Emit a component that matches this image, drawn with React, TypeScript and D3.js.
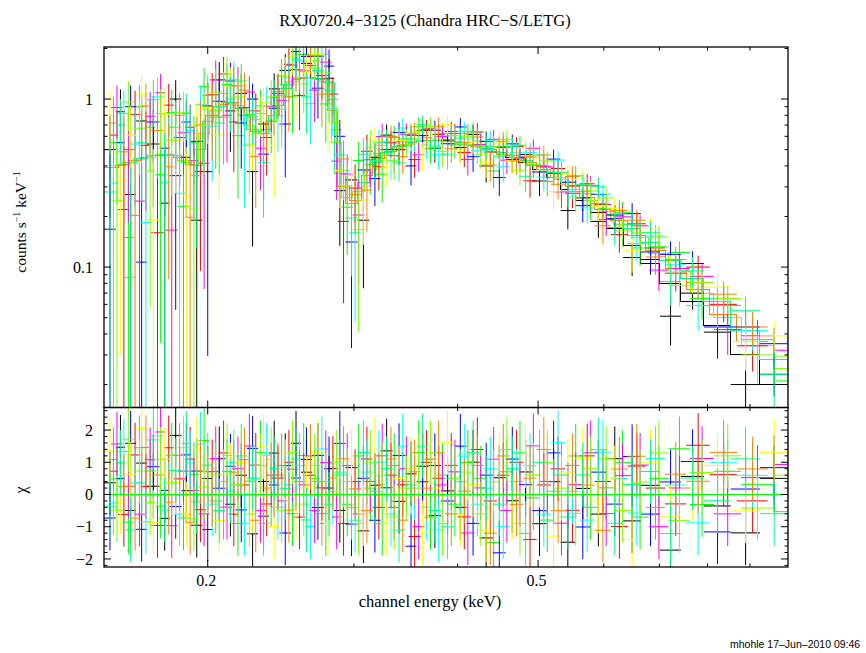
import React, { useEffect, useRef } from 'react';
import * as d3 from 'd3';

// channel bin edges (keV) of the three groupings used by the ten spectra
const edgesA = [0.150, 0.155, 0.159, 0.164, 0.169, 0.175, 0.180, 0.186, 0.191, 0.197, 0.203, 0.210, 0.216, 0.223, 0.230, 0.237, 0.244, 0.252, 0.259, 0.267, 0.276, 0.284, 0.293, 0.303, 0.313, 0.323, 0.334, 0.346, 0.357, 0.369, 0.382, 0.396, 0.410, 0.425, 0.441, 0.457, 0.474, 0.492, 0.512, 0.532, 0.554, 0.578, 0.604, 0.633, 0.665, 0.701, 0.743, 0.792, 0.853, 0.925, 1.000];
const edgesB = [0.152, 0.156, 0.161, 0.166, 0.171, 0.177, 0.182, 0.188, 0.193, 0.199, 0.206, 0.212, 0.218, 0.225, 0.232, 0.239, 0.247, 0.254, 0.262, 0.270, 0.279, 0.287, 0.296, 0.306, 0.316, 0.327, 0.338, 0.349, 0.361, 0.373, 0.386, 0.400, 0.415, 0.430, 0.446, 0.462, 0.480, 0.498, 0.518, 0.539, 0.561, 0.585, 0.612, 0.641, 0.674, 0.711, 0.754, 0.805, 0.868, 0.945];
const edgesC = [0.153, 0.158, 0.163, 0.168, 0.173, 0.178, 0.184, 0.190, 0.195, 0.201, 0.208, 0.214, 0.221, 0.228, 0.235, 0.242, 0.249, 0.257, 0.265, 0.273, 0.282, 0.290, 0.299, 0.309, 0.319, 0.330, 0.341, 0.353, 0.365, 0.377, 0.390, 0.404, 0.419, 0.434, 0.450, 0.467, 0.484, 0.503, 0.523, 0.544, 0.566, 0.591, 0.617, 0.647, 0.680, 0.718, 0.762, 0.814, 0.878, 0.960, 1.040];

// folded model (counts s^-1 keV^-1) per bin
const modelA = [0.39, 0.40, 0.42, 0.44, 0.46, 0.47, 0.46, 0.42, 0.40, 0.74, 0.90, 0.96, 0.88, 0.66, 0.62, 0.80, 1.15, 1.30, 1.35, 1.32, 1.25, 0.36, 0.24, 0.32, 0.42, 0.48, 0.52, 0.55, 0.57, 0.57, 0.56, 0.55, 0.53, 0.51, 0.48, 0.46, 0.43, 0.40, 0.36, 0.32, 0.28, 0.24, 0.205, 0.17, 0.14, 0.11, 0.085, 0.062, 0.042, 0.028];
const modelBlack = [0.39, 0.40, 0.42, 0.44, 0.46, 0.47, 0.46, 0.42, 0.40, 0.74, 0.90, 0.96, 0.88, 0.66, 0.62, 0.80, 1.15, 1.30, 1.35, 1.32, 1.25, 0.36, 0.24, 0.32, 0.42, 0.48, 0.52, 0.55, 0.57, 0.57, 0.56, 0.55, 0.53, 0.51, 0.48, 0.45, 0.42, 0.38, 0.34, 0.29, 0.25, 0.21, 0.17, 0.135, 0.105, 0.080, 0.062, 0.045, 0.030, 0.020];
const modelB = [0.39, 0.41, 0.43, 0.45, 0.46, 0.47, 0.45, 0.41, 0.50, 0.80, 0.93, 0.95, 0.80, 0.64, 0.66, 0.92, 1.22, 1.33, 1.34, 1.30, 0.85, 0.30, 0.25, 0.35, 0.44, 0.49, 0.53, 0.56, 0.57, 0.57, 0.56, 0.54, 0.52, 0.50, 0.47, 0.45, 0.42, 0.38, 0.34, 0.30, 0.26, 0.22, 0.19, 0.155, 0.125, 0.098, 0.074, 0.052, 0.036];
const modelC = [0.40, 0.42, 0.44, 0.45, 0.47, 0.46, 0.43, 0.40, 0.62, 0.86, 0.95, 0.92, 0.70, 0.62, 0.74, 1.05, 1.27, 1.35, 1.33, 1.28, 0.55, 0.26, 0.28, 0.38, 0.46, 0.50, 0.54, 0.56, 0.57, 0.57, 0.56, 0.54, 0.52, 0.49, 0.47, 0.44, 0.41, 0.37, 0.33, 0.29, 0.25, 0.215, 0.18, 0.15, 0.12, 0.094, 0.070, 0.050, 0.034, 0.025];

// relative 1-sigma error per bin
const relErr = [0.78, 0.75, 0.72, 0.7, 0.68, 0.66, 0.64, 0.6, 0.55, 0.46, 0.4, 0.38, 0.38, 0.36, 0.36, 0.34, 0.32, 0.3, 0.3, 0.3, 0.32, 0.42, 0.45, 0.36, 0.25, 0.2, 0.18, 0.17, 0.16, 0.16, 0.16, 0.16, 0.16, 0.16, 0.16, 0.16, 0.16, 0.16, 0.17, 0.17, 0.17, 0.18, 0.18, 0.19, 0.2, 0.21, 0.23, 0.25, 0.28, 0.3];

// observed rates, one array per data set
const rateBlack = [0.50, 0.84, 0.27, 0.74, 0.54, 0.24, 1.00, 0.45, 0.19, 0.91, 1.30, 0.85, 1.08, 0.37, 0.71, 1.15, 1.48, 1.92, 1.63, 1.80, 1.33, 0.285, 0.33, 0.19, 0.45, 0.61, 0.50, 0.61, 0.65, 0.51, 0.57, 0.515, 0.615, 0.40, 0.52, 0.436, 0.467, 0.325, 0.363, 0.217, 0.258, 0.187, 0.204, 0.114, 0.111, 0.051, 0.070, 0.041, 0.020, 0.023];
const rateRed = [0.61, 0.22, 0.81, 0.53, 0.16, 0.92, 0.59, 0.68, 0.37, 1.06, 1.41, 0.73, 0.89, 0.85, 0.59, 1.08, 1.61, 1.05, 1.58, 1.38, 1.07, 0.187, 0.295, 0.489, 0.396, 0.549, 0.559, 0.436, 0.661, 0.616, 0.641, 0.48, 0.636, 0.484, 0.515, 0.522, 0.326, 0.398, 0.386, 0.275, 0.313, 0.236, 0.156, 0.181, 0.13, 0.092, 0.10, 0.060, 0.034];
const rateGreen = [0.55, 0.15, 0.90, 0.68, 0.355, 0.83, 0.23, 0.55, 1.19, 0.78, 1.22, 0.605, 0.81, 0.91, 0.74, 1.37, 1.03, 1.84, 1.53, 0.935, 0.656, 0.227, 0.431, 0.407, 0.357, 0.59, 0.579, 0.684, 0.506, 0.625, 0.533, 0.626, 0.562, 0.373, 0.523, 0.531, 0.403, 0.323, 0.364, 0.349, 0.233, 0.223, 0.212, 0.13, 0.132, 0.122, 0.065, 0.059, 0.037, 0.021];
const rateBlue = [0.168, 0.55, 0.90, 0.107, 0.73, 0.51, 0.35, 0.73, 0.56, 0.37, 0.97, 1.28, 0.72, 1.00, 0.47, 0.88, 0.71, 1.50, 1.79, 1.16, 1.57, 0.60, 0.141, 0.378, 0.336, 0.50, 0.633, 0.40, 0.606, 0.652, 0.542, 0.682, 0.454, 0.559, 0.341, 0.541, 0.451, 0.368, 0.439, 0.32, 0.232, 0.270, 0.194, 0.208, 0.123, 0.119, 0.105, 0.044, 0.044, 0.035];
const rateCyan = [0.316, 0.82, 0.54, 0.184, 1.03, 0.47, 0.275, 0.65, 0.93, 0.69, 1.08, 1.31, 0.53, 0.755, 0.95, 0.795, 1.34, 1.69, 0.94, 1.85, 0.877, 0.376, 0.16, 0.438, 0.55, 0.431, 0.673, 0.579, 0.534, 0.47, 0.605, 0.643, 0.495, 0.564, 0.395, 0.479, 0.48, 0.343, 0.433, 0.305, 0.225, 0.272, 0.207, 0.138, 0.153, 0.104, 0.059, 0.065, 0.042];
const rateMagenta = [0.89, 0.50, 0.247, 0.79, 1.09, 0.166, 0.63, 0.43, 0.415, 1.30, 0.80, 1.20, 1.10, 0.51, 0.90, 0.98, 1.59, 1.47, 1.13, 1.66, 0.427, 0.358, 0.204, 0.435, 0.598, 0.46, 0.618, 0.465, 0.67, 0.597, 0.623, 0.437, 0.537, 0.576, 0.433, 0.44, 0.509, 0.394, 0.28, 0.305, 0.305, 0.192, 0.199, 0.176, 0.096, 0.098, 0.088, 0.0425, 0.039, 0.032];
const rateYellow = [0.80, 0.33, 0.61, 1.07, 0.19, 0.81, 0.57, 0.265, 0.71, 0.88, 0.61, 1.18, 1.21, 0.61, 0.95, 0.53, 1.41, 1.14, 1.43, 1.84, 0.89, 0.375, 0.35, 0.251, 0.567, 0.394, 0.567, 0.625, 0.461, 0.588, 0.704, 0.497, 0.556, 0.42, 0.549, 0.43, 0.513, 0.438, 0.281, 0.358, 0.333, 0.231, 0.224, 0.125, 0.168, 0.094, 0.089, 0.076, 0.036, 0.039];
const rateOrange = [0.72, 0.485, 0.203, 0.91, 0.65, 0.395, 0.80, 0.198, 0.70, 0.80, 0.78, 1.20, 1.13, 0.456, 0.708, 1.11, 1.03, 1.49, 1.82, 1.07, 0.99, 0.44, 0.27, 0.287, 0.473, 0.598, 0.454, 0.627, 0.588, 0.688, 0.506, 0.549, 0.595, 0.404, 0.56, 0.428, 0.454, 0.465, 0.311, 0.346, 0.273, 0.176, 0.217, 0.19, 0.115, 0.111, 0.081, 0.069, 0.044];
const rateLime = [0.248, 0.96, 0.67, 0.373, 0.82, 0.57, 0.83, 0.222, 0.70, 1.10, 1.41, 1.03, 0.54, 0.82, 1.03, 0.87, 1.80, 1.23, 1.69, 1.43, 0.726, 0.304, 0.167, 0.517, 0.529, 0.43, 0.559, 0.646, 0.688, 0.488, 0.605, 0.60, 0.47, 0.521, 0.575, 0.377, 0.45, 0.429, 0.341, 0.261, 0.284, 0.258, 0.164, 0.161, 0.151, 0.078, 0.081, 0.065, 0.030, 0.0295];
const rateSpring = [0.28, 0.70, 0.087, 0.55, 0.99, 0.32, 0.68, 0.82, 0.35, 1.05, 0.72, 1.00, 1.28, 0.78, 0.42, 1.02, 1.22, 1.73, 1.03, 1.48, 1.13, 0.465, 0.196, 0.47, 0.43, 0.557, 0.417, 0.578, 0.707, 0.525, 0.47, 0.585, 0.64, 0.526, 0.457, 0.519, 0.347, 0.464, 0.366, 0.282, 0.309, 0.30, 0.172, 0.18, 0.16, 0.082, 0.095, 0.059, 0.055, 0.023];

const series = [
  { color: '#000000', edges: edgesA, model: modelBlack, rate: rateBlack },
  { color: '#ff0000', edges: edgesB, model: modelB, rate: rateRed },
  { color: '#00ff00', edges: edgesC, model: modelC, rate: rateGreen },
  { color: '#0000ff', edges: edgesA, model: modelA, rate: rateBlue },
  { color: '#00ffff', edges: edgesB, model: modelB, rate: rateCyan },
  { color: '#ff00ff', edges: edgesC, model: modelC, rate: rateMagenta },
  { color: '#ffff00', edges: edgesA, model: modelA, rate: rateYellow },
  { color: '#ff8000', edges: edgesB, model: modelB, rate: rateOrange },
  { color: '#80ff00', edges: edgesC, model: modelC, rate: rateLime },
  { color: '#00ff80', edges: edgesA, model: modelA, rate: rateSpring },
];

const xMajorTicks = [0.2, 0.5];
const xMinorTicks = [0.3, 0.4, 0.6, 0.7, 0.8, 0.9];
const yMajorTicks = [0.1, 1];
const yMinorTicks = [0.02, 0.03, 0.04, 0.05, 0.06, 0.07, 0.08, 0.09, 0.2, 0.3, 0.4, 0.5, 0.6, 0.7, 0.8, 0.9, 2];
const chiMajorTicks = [-2, -1, 0, 1, 2];

const SERIF = '"Liberation Serif", "Times New Roman", Times, serif';

export default function App() {
  const svgRef = useRef<SVGSVGElement>(null);

  useEffect(() => {
    const svg = d3.select(svgRef.current);
    svg.selectAll('*').remove();

    const left = 104, right = 788, top = 47, mid = 407.5, bottom = 567;

    const x = d3.scaleLog().domain([0.15, 1.0]).range([left, right]);
    const y = d3.scaleLog().domain([0.0146, 2.04]).range([mid, top]);
    const yc = d3.scaleLinear().domain([-2.25, 2.7]).range([bottom, mid]);

    const defs = svg.append('defs');
    defs.append('clipPath').attr('id', 'clipTop').append('rect')
      .attr('x', left).attr('y', top).attr('width', right - left).attr('height', mid - top);
    defs.append('clipPath').attr('id', 'clipBot').append('rect')
      .attr('x', left).attr('y', mid).attr('width', right - left).attr('height', bottom - mid);

    const upper = svg.append('g').attr('clip-path', 'url(#clipTop)');
    const lower = svg.append('g').attr('clip-path', 'url(#clipBot)');

    // model steps, under the data; crisp so the copies do not blur into a band
    const step = d3.line<[number, number]>()
      .x(d => x(d[0]))
      .y(d => y(d[1]))
      .curve(d3.curveStepAfter);
    series.forEach(s => {
      const pts: [number, number][] = s.model.map((m, i) => [s.edges[i], m] as [number, number]);
      pts.push([s.edges[s.model.length], s.model[s.model.length - 1]]);
      upper.append('path').attr('d', step(pts)).attr('fill', 'none')
        .attr('stroke', s.color).attr('stroke-width', 1).attr('shape-rendering', 'crispEdges');
    });

    // data crosses and residuals
    series.forEach(s => {
      const gu = upper.append('g').attr('stroke', s.color).attr('stroke-width', 1);
      const gl = lower.append('g').attr('stroke', s.color).attr('stroke-width', 1);
      s.rate.forEach((v, i) => {
        const lo = s.edges[i], hi = s.edges[i + 1];
        const xm = x((lo + hi) / 2);
        const err = relErr[i] * s.model[i];
        const yHi = y(v + err);
        const yLo = v - err > 0 ? y(v - err) : mid + 10;
        gu.append('line').attr('x1', xm).attr('x2', xm).attr('y1', yHi).attr('y2', yLo);
        gu.append('line').attr('x1', x(lo)).attr('x2', x(hi)).attr('y1', y(v)).attr('y2', y(v));

        const chi = (v - s.model[i]) / err;
        gl.append('line').attr('x1', xm).attr('x2', xm).attr('y1', yc(chi + 1)).attr('y2', yc(chi - 1));
        gl.append('line').attr('x1', x(lo)).attr('x2', x(hi)).attr('y1', yc(chi)).attr('y2', yc(chi));
      });
    });

    // zero line of the residuals
    lower.append('line').attr('x1', left).attr('x2', right)
      .attr('y1', yc(0)).attr('y2', yc(0)).attr('stroke', '#00ff00').attr('stroke-width', 1);

    // ticks
    const axes = svg.append('g').attr('stroke', '#000').attr('stroke-width', 1);
    const tick = (x1: number, y1: number, x2: number, y2: number) =>
      axes.append('line').attr('x1', x1).attr('y1', y1).attr('x2', x2).attr('y2', y2);

    const xTick = (t: number, len: number) => {
      const xp = x(t);
      tick(xp, top, xp, top + len);
      tick(xp, mid, xp, mid - len);
      tick(xp, mid, xp, mid + len);
      tick(xp, bottom, xp, bottom - len);
    };
    xMajorTicks.forEach(t => xTick(t, 7));
    xMinorTicks.forEach(t => xTick(t, 3.5));

    yMajorTicks.forEach(t => { tick(left, y(t), left + 7, y(t)); tick(right, y(t), right - 7, y(t)); });
    yMinorTicks.forEach(t => { tick(left, y(t), left + 3.5, y(t)); tick(right, y(t), right - 3.5, y(t)); });

    chiMajorTicks.forEach(t => { tick(left, yc(t), left + 7, yc(t)); tick(right, yc(t), right - 7, yc(t)); });
    d3.range(-22, 27, 2).filter(k => k % 10 !== 0).forEach(k => {
      const t = k / 10;
      tick(left, yc(t), left + 3.5, yc(t));
      tick(right, yc(t), right - 3.5, yc(t));
    });

    // frames
    svg.append('rect').attr('x', left).attr('y', top).attr('width', right - left).attr('height', mid - top)
      .attr('fill', 'none').attr('stroke', '#000').attr('stroke-width', 1.3);
    svg.append('rect').attr('x', left).attr('y', mid).attr('width', right - left).attr('height', bottom - mid)
      .attr('fill', 'none').attr('stroke', '#000').attr('stroke-width', 1.3);

    // labels
    const txt = svg.append('g').attr('font-family', SERIF).attr('fill', '#000');

    xMajorTicks.forEach(t => {
      txt.append('text').attr('x', x(t) - 1.5).attr('y', 586).attr('text-anchor', 'middle')
        .attr('font-size', 16).text(String(t));
    });
    yMajorTicks.forEach(t => {
      txt.append('text').attr('x', 93).attr('y', y(t)).attr('dy', '0.35em').attr('text-anchor', 'end')
        .attr('font-size', 16).text(String(t));
    });
    chiMajorTicks.forEach(t => {
      txt.append('text').attr('x', 93).attr('y', yc(t)).attr('dy', '0.35em').attr('text-anchor', 'end')
        .attr('font-size', 16).text(t < 0 ? `\u2212${-t}` : String(t));
    });

    txt.append('text').attr('x', 425).attr('y', 26).attr('text-anchor', 'middle')
      .attr('font-size', 16.5).text('RXJ0720.4\u22123125 (Chandra HRC\u2212S/LETG)');

    txt.append('text').attr('x', 430).attr('y', 607).attr('text-anchor', 'middle')
      .attr('font-size', 16.5).text('channel energy (keV)');

    const ylab = txt.append('text').attr('transform', 'translate(26,222) rotate(-90)')
      .attr('text-anchor', 'middle').attr('font-size', 15.5);
    ylab.append('tspan').text('counts s');
    ylab.append('tspan').attr('dy', -6).attr('font-size', 10).text('\u22121');
    ylab.append('tspan').attr('dy', 6).text(' keV');
    ylab.append('tspan').attr('dy', -6).attr('font-size', 10).text('\u22121');

    txt.append('text').attr('transform', 'translate(26,490) rotate(-90)')
      .attr('text-anchor', 'middle').attr('font-size', 16).text('\u03c7');

    svg.append('text').attr('x', 730).attr('y', 648)
      .attr('font-family', '"Liberation Sans", Arial, Helvetica, sans-serif')
      .attr('font-size', 10.5).attr('fill', '#000').text('mhohle 17\u2013Jun\u20132010 09:46');
  }, []);

  return (
    <svg
      ref={svgRef}
      width={866}
      height={653}
      style={{ position: 'absolute', left: 0, top: 0, background: '#fff' }}
    />
  );
}
